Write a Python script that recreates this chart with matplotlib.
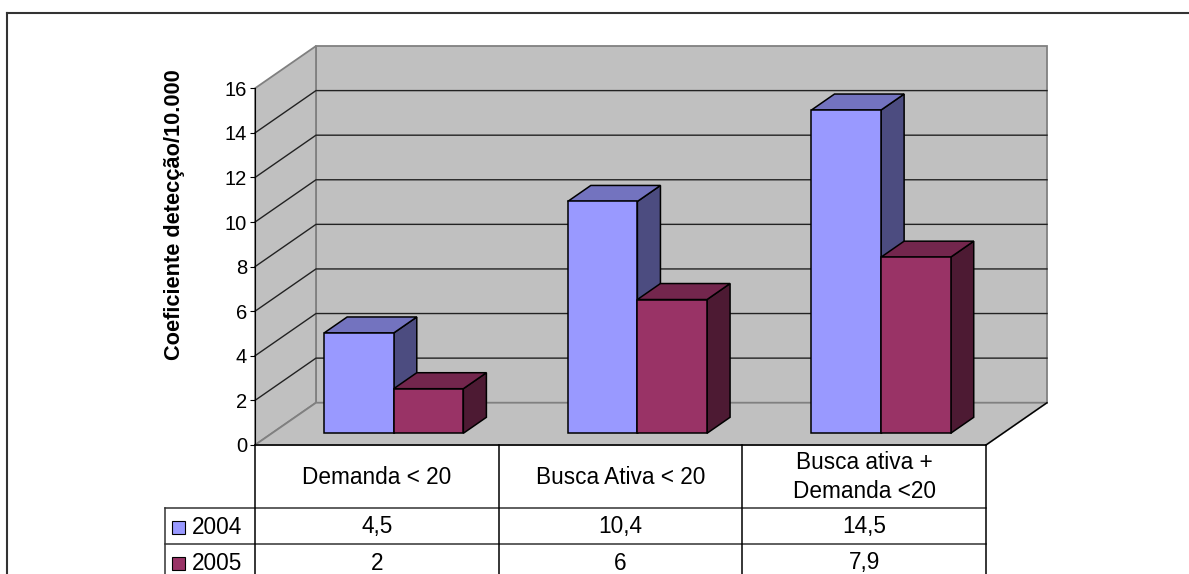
import matplotlib.pyplot as plt
from matplotlib.patches import Polygon, Rectangle
from matplotlib.lines import Line2D

plt.rcParams['font.family'] = ['Liberation Sans', 'DejaVu Sans']

# dados
categorias = ["Demanda < 20", "Busca Ativa < 20", "Busca ativa +\nDemanda <20"]
anos = ["2004", "2005"]
valores_2004 = [4.5, 10.4, 14.5]
valores_2005 = [2, 6, 7.9]
series = [valores_2004, valores_2005]

cores_frente = ["#9999FF", "#993366"]
cores_topo = ["#7373BF", "#73264D"]
cores_lado = ["#4C4C80", "#4D1A33"]
cor_parede = "#C0C0C0"
cor_borda = "#808080"

# profundidade do grafico 3D (deslocamento da parede do fundo em unidades de dados)
DX, DY = 0.2503, 1.897
D0, D1 = 0.277, 0.655
LARG = 0.2857
YMAX = 16


def proj(x, y, d):
    return (x + d * DX, y + d * DY)


def fmt(v):
    return f"{v:g}".replace('.', ',')


fig = plt.figure(figsize=(11.89, 5.74), dpi=100)
W, H = 1189, 574

ax = fig.add_axes([255 / W, 1 - 445 / H, 731 / W, (445 - 88.3) / H])
ax.set_xlim(0, len(categorias))
ax.set_ylim(0, YMAX)
ax.patch.set_visible(False)
for s in ["top", "right", "bottom"]:
    ax.spines[s].set_visible(False)
ax.spines["left"].set_color("black")
ax.set_xticks([])
ax.set_yticks(range(0, YMAX + 1, 2))
ax.tick_params(axis="y", length=3.6, width=0.8, pad=2, labelsize=14.5)
ax.set_ylabel("Coeficiente detecção/10.000", fontsize=15.7, fontweight="bold")
ax.yaxis.set_label_coords(-0.096, 0.645)

n = len(categorias)

# paredes e piso
fundo = [proj(0, 0, 1), proj(n, 0, 1), proj(n, YMAX, 1), proj(0, YMAX, 1)]
lado = [proj(0, 0, 0), proj(0, 0, 1), proj(0, YMAX, 1), proj(0, YMAX, 0)]
piso = [proj(0, 0, 0), proj(n, 0, 0), proj(n, 0, 1), proj(0, 0, 1)]
for pts in (fundo, lado, piso):
    ax.add_patch(Polygon(pts, closed=True, facecolor=cor_parede, edgecolor=cor_borda,
                         lw=1.3, zorder=0, clip_on=False))

# linhas de grade
for v in range(2, YMAX, 2):
    xs, ys = zip(proj(0, v, 0), proj(0, v, 1), proj(n, v, 1))
    ax.plot(xs, ys, color="#222222", lw=1, zorder=0.5, clip_on=False)

xs, ys = zip(proj(n, 0, 0), proj(n, 0, 1))
ax.plot(xs, ys, color="black", lw=1, zorder=0.5, clip_on=False)
ax.plot([0, n], [0, 0], color="black", lw=1.1, zorder=2, clip_on=False)

# colunas 3D
z = 3
for i in range(n):
    for j, vals in enumerate(series):
        v = vals[i]
        xl = i + 0.5 - LARG + j * LARG
        xr = xl + LARG
        frente = [proj(xl, 0, D0), proj(xr, 0, D0), proj(xr, v, D0), proj(xl, v, D0)]
        topo = [proj(xl, v, D0), proj(xr, v, D0), proj(xr, v, D1), proj(xl, v, D1)]
        direita = [proj(xr, 0, D0), proj(xr, 0, D1), proj(xr, v, D1), proj(xr, v, D0)]
        for pts, cor in ((direita, cores_lado[j]), (topo, cores_topo[j]), (frente, cores_frente[j])):
            ax.add_patch(Polygon(pts, closed=True, facecolor=cor, edgecolor="black",
                                 lw=1.1, zorder=z, clip_on=False, joinstyle="miter"))
        z += 1

# tabela de dados
xesq = -(255 - 164.7) / 243.7
tab = fig.add_axes([164.7 / W, 0, (986 - 164.7) / W, (574 - 445) / H])
tab.set_xlim(xesq, n)
tab.set_ylim(129, 0)
tab.axis("off")

linhas_y = [63, 99]
for y in linhas_y:
    tab.plot([xesq, n], [y, y], color="#333333", lw=1.1, clip_on=False)
for x in range(n + 1):
    tab.plot([x, x], [0, 140], color="black", lw=1.1, clip_on=False)
tab.plot([xesq, xesq], [63, 140], color="#333333", lw=1.1, clip_on=False)

for i, cat in enumerate(categorias):
    tab.text(i + 0.5, 32, cat, ha="center", va="center", fontsize=16.3, linespacing=1.35)

centros = [82, 118]
for j, vals in enumerate(series):
    yc = centros[j]
    for i, v in enumerate(vals):
        tab.text(i + 0.5, yc, fmt(v), ha="center", va="center", fontsize=16.3)
    tab.add_patch(Rectangle((xesq + 7.5 / 243.7, yc - 6.5), 13 / 243.7, 13,
                            facecolor=cores_frente[j], edgecolor="black", lw=0.8, clip_on=False))
    tab.text(xesq + 27 / 243.7, yc, anos[j], ha="left", va="center", fontsize=16.3)

# moldura da area do grafico
fig.add_artist(Line2D([7 / W, 1], [1 - 13 / H, 1 - 13 / H], color="#333333", lw=1.5))
fig.add_artist(Line2D([7 / W, 7 / W], [0, 1 - 13 / H], color="#333333", lw=1.5))

fig.savefig("out.png", dpi=100)
